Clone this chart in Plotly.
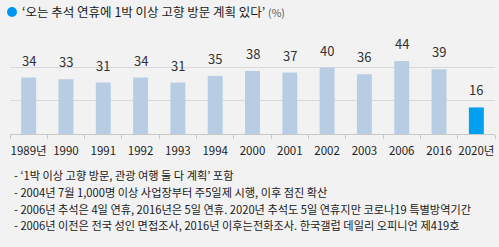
import plotly.graph_objects as go

years = ["1989년", "1990", "1991", "1992", "1993", "1994", "2000", "2001", "2002", "2003", "2006", "2016", "2020년"]
values = [34, 33, 31, 34, 31, 35, 38, 37, 40, 36, 44, 39, 16]
title_text = "‘오는 추석 연휴에 1박 이상 고향 방문 계획 있다’"
unit_text = "(%)"
notes = [
    "- ‘1박 이상 고향 방문, 관광 여행 둘 다 계획’ 포함",
    "- 2004년 7월 1,000명 이상 사업장부터 주5일제 시행, 이후 점진 확산",
    "- 2006년 추석은 4일 연휴, 2016년은 5일 연휴. 2020년 추석도 5일 연휴지만 코로나19 특별방역기간",
    "- 2006년 이전은 전국 성인 면접조사, 2016년 이후는전화조사. 한국갤럽 데일리 오피니언 제419호",
]

FONT = "Noto Sans CJK KR"
colors = ["#b8cce4"] * (len(values) - 1) + ["#00a0f0"]

fig = go.Figure()
fig.add_trace(go.Bar(x=years, y=values, marker=dict(color=colors, line=dict(width=0)),
                     width=0.4, hoverinfo="skip"))

for i, v in enumerate(values):
    fig.add_annotation(x=i, y=v, text=str(v), showarrow=False, yanchor="bottom",
                       yshift=6, font=dict(family=FONT, size=13, color="#333333"))

W, H = 499, 247
L, R, T, B = 10, 4, 51, 113

def px_x(px):
    return (px - L) / (W - L - R)

def px_y(py):
    return (H - B - py) / (H - T - B)

fig.add_shape(type="circle", xref="paper", yref="paper",
              x0=px_x(7), x1=px_x(17), y0=px_y(17), y1=px_y(7),
              fillcolor="#0096f0", line=dict(width=0))
fig.add_annotation(xref="paper", yref="paper", x=px_x(20), y=px_y(12), xanchor="left", yanchor="middle",
                   text=title_text + " <span style='font-size:10.5px;color:#555555'>" + unit_text + "</span>",
                   showarrow=False, font=dict(family=FONT, size=12.5, color="#1a1a1a"))

ys = [175, 192, 208.5, 224.5]
for t, yy in zip(notes, ys):
    fig.add_annotation(xref="paper", yref="paper", x=px_x(12), y=px_y(yy), xanchor="left", yanchor="middle",
                       text=t, showarrow=False, font=dict(family=FONT, size=11.2, color="#1a1a1a"))

fig.update_layout(
    width=W, height=H, margin=dict(l=L, r=R, t=T, b=B),
    paper_bgcolor="#f2f2f2", plot_bgcolor="#f2f2f2",
    showlegend=False, bargap=0.6,
    xaxis=dict(type="category", categoryorder="array", categoryarray=years,
               range=[-0.5, len(years) - 0.5], tickangle=0,
               showline=True, linecolor="#c8c8c8", linewidth=1,
               ticks="outside", tickson="boundaries", ticklen=4, tickcolor="#c8c8c8",
               ticklabelstandoff=6,
               tickfont=dict(family=FONT, size=11.5, color="#222222"), showgrid=False,
               fixedrange=True),
    yaxis=dict(range=[0, 50], showticklabels=False, showgrid=True, gridcolor="#d9d9d9",
               tickvals=[20, 40], zeroline=False, showline=False, fixedrange=True),
)

fig.write_html("out.html")
